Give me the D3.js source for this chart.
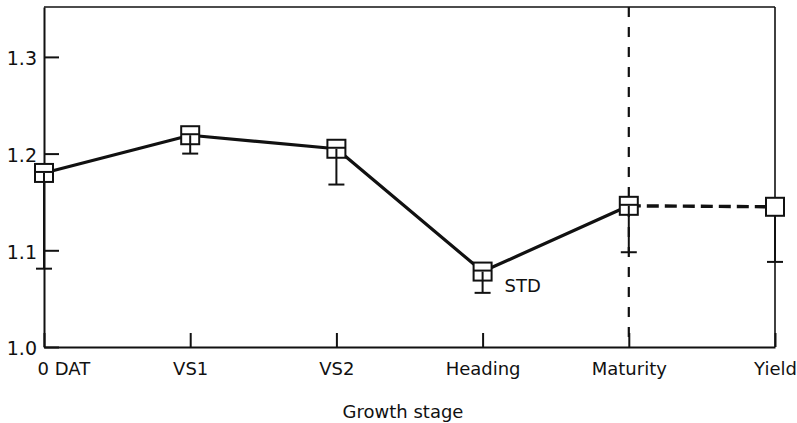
<!DOCTYPE html>
<html>
<head>
<meta charset="utf-8">
<script src="https://cdn.jsdelivr.net/npm/d3@7"></script>
<style>
  html, body { margin: 0; padding: 0; background: #fff; }
  svg { display: block; font-family: "DejaVu Sans", sans-serif; }
</style>
</head>
<body>
<svg id="chart" width="797" height="423"></svg>
<script>
// Growth stages along the x axis
const stages = ["0 DAT", "VS1", "VS2", "Heading", "Maturity", "Yield"];
// Mean ratio at each stage
const meanValues = [1.180, 1.219, 1.205, 1.078, 1.146, 1.145];
// Lower end of the one-sided standard deviation bar
const lowerValues = [1.081, 1.200, 1.168, 1.056, 1.098, 1.088];
// Y axis tick values
const yTicks = [1.0, 1.1, 1.2, 1.3];

const svg = d3.select("#chart");
const plotLeft = 44, plotRight = 775, plotTop = 7, plotBottom = 347;

const x = d3.scalePoint().domain(stages).range([plotLeft, plotRight]);
const y = d3.scaleLinear().domain([1.0, 1.3516]).range([plotBottom, plotTop]);

const points = stages.map((s, i) => ({ stage: s, mean: meanValues[i], low: lowerValues[i] }));

// Frame: top and right edges
svg.append("line").attr("x1", plotLeft).attr("x2", plotRight).attr("y1", plotTop).attr("y2", plotTop)
  .attr("stroke", "#111").attr("stroke-width", 1.6);
svg.append("line").attr("x1", plotRight).attr("x2", plotRight).attr("y1", plotTop).attr("y2", plotBottom)
  .attr("stroke", "#111").attr("stroke-width", 1.6);

// Y axis with inward ticks
const yAxis = svg.append("g").attr("transform", `translate(${plotLeft},0)`)
  .call(d3.axisLeft(y).tickValues(yTicks).tickFormat(d3.format(".1f"))
    .tickSizeInner(-15).tickSizeOuter(0).tickPadding(7));
yAxis.select(".domain").attr("stroke", "#111").attr("stroke-width", 2);
yAxis.selectAll(".tick line").attr("stroke", "#111").attr("stroke-width", 2);
yAxis.selectAll(".tick text").attr("font-size", 19).attr("fill", "#111")
  .attr("font-family", "DejaVu Sans").attr("dy", "0.42em");

// X axis with inward ticks
const xAxis = svg.append("g").attr("transform", `translate(0,${plotBottom})`)
  .call(d3.axisBottom(x).tickSizeInner(-14).tickSizeOuter(0).tickPadding(15));
xAxis.select(".domain").attr("stroke", "#111").attr("stroke-width", 2);
xAxis.selectAll(".tick line").attr("stroke", "#111").attr("stroke-width", 2);
xAxis.selectAll(".tick text").attr("font-size", 18).attr("fill", "#111")
  .attr("font-family", "DejaVu Sans");
xAxis.selectAll(".tick text").filter(d => d === stages[0])
  .attr("text-anchor", "start").attr("x", -7);

// Axis title
svg.append("text").attr("x", 403).attr("y", 418).attr("text-anchor", "middle")
  .attr("font-size", 18).attr("fill", "#111").text("Growth stage");

// Vertical dashed divider at maturity
svg.append("line")
  .attr("x1", x("Maturity")).attr("x2", x("Maturity"))
  .attr("y1", plotTop).attr("y2", plotBottom)
  .attr("stroke", "#111").attr("stroke-width", 2.2).attr("stroke-dasharray", "10,10");

// Solid line through the growth stages
const line = d3.line().x(d => x(d.stage)).y(d => y(d.mean));
svg.append("path").datum(points.slice(0, 5)).attr("d", line)
  .attr("fill", "none").attr("stroke", "#111").attr("stroke-width", 3.2)
  .attr("stroke-linejoin", "round");
// Dashed line from maturity to yield
svg.append("path").datum(points.slice(4)).attr("d", line)
  .attr("fill", "none").attr("stroke", "#111").attr("stroke-width", 3.4)
  .attr("stroke-dasharray", "12,6");

// Markers and error bars
const half = 9, cap = 8;
const g = svg.append("g").selectAll("g").data(points).join("g");
g.append("rect")
  .attr("x", d => x(d.stage) - half).attr("y", d => y(d.mean) - half)
  .attr("width", 2 * half).attr("height", 2 * half)
  .attr("fill", "#fff").attr("stroke", "#111").attr("stroke-width", 2);
// Error bar stem: from the marker centre, or from the box edge for yield
g.append("line")
  .attr("x1", d => x(d.stage)).attr("x2", d => x(d.stage))
  .attr("y1", d => d.stage === "Yield" ? y(d.mean) + half : y(d.mean))
  .attr("y2", d => y(d.low))
  .attr("stroke", "#111").attr("stroke-width", 2);
g.append("line")
  .attr("x1", d => x(d.stage) - cap).attr("x2", d => x(d.stage) + cap)
  .attr("y1", d => y(d.low)).attr("y2", d => y(d.low))
  .attr("stroke", "#111").attr("stroke-width", 2);
// Horizontal bar inside the marker
g.filter(d => d.stage !== "Yield").append("line")
  .attr("x1", d => x(d.stage) - half).attr("x2", d => x(d.stage) + half)
  .attr("y1", d => y(d.mean) - 1).attr("y2", d => y(d.mean) - 1)
  .attr("stroke", "#111").attr("stroke-width", 2);

// STD label beside the heading point
svg.append("text").attr("x", x("Heading") + 22).attr("y", y(lowerValues[3]) - 1)
  .attr("font-size", 18).attr("fill", "#111").text("STD");
</script>
</body>
</html>
